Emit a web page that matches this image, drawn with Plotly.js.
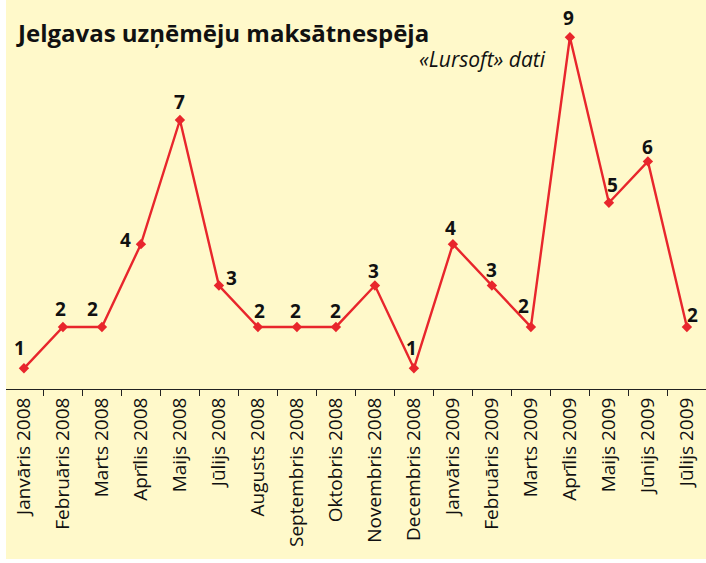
<!DOCTYPE html>
<html>
<head>
<meta charset="utf-8">
<script src="https://cdn.plot.ly/plotly-3.0.1.min.js"></script>
<style>html,body{margin:0;padding:0;background:#fff;}#chart{width:706px;height:563px;}</style>
</head>
<body>
<div id="chart"></div>
<script>
// Data
var months = ["Janvāris 2008","Februāris 2008","Marts 2008","Aprīlis 2008","Maijs 2008","Jūlijs 2008",
  "Augusts 2008","Septembris 2008","Oktobris 2008","Novembris 2008","Decembris 2008",
  "Janvāris 2009","Februāris 2009","Marts 2009","Aprīlis 2009","Maijs 2009","Jūnijs 2009","Jūlijs 2009"];
var counts = [1,2,2,4,7,3,2,2,2,3,1,4,3,2,9,5,6,2];
var titleText = "Jelgavas uzņēmēju maksātnespēja";
var sourceText = "«Lursoft» dati";

// Style: label offsets (pixels) relative to each point
var labelDx = [-4,-2,-9,-15,0,13,2,-1,0,-1,-2,-2,0,-7,-1,4,0,6];
var labelDy = [20,18,18,4,18,8,16,16,16,15,20,16,16,21,19,18,14,12];

var red = "#E8262C";
var bg = "#FFF9CA";
var fontFam = "'Open Sans', 'Noto Sans', sans-serif";

var annotations = counts.map(function(v,i){
  return {x: months[i], y: v, xref:'x', yref:'y', text: String(v), showarrow:false,
    xanchor:'center', yanchor:'middle', xshift: labelDx[i], yshift: labelDy[i],
    font:{family:fontFam, size:19, color:'#111', weight:700}};
});
annotations.push({xref:'paper', yref:'paper', x:8/700, y:(389-32)/389, xanchor:'left', yanchor:'middle',
  text:'<b>'+titleText+'</b>', showarrow:false, font:{family:fontFam, size:24, color:'#111'}});
annotations.push({xref:'paper', yref:'paper', x:(548-6)/700, y:(389-59)/389, xanchor:'right', yanchor:'middle',
  text:'<i>'+sourceText+'</i>', showarrow:false, font:{family:fontFam, size:21, color:'#111'}});

var trace = {
  x: months, y: counts, type:'scatter', mode:'lines+markers',
  line:{color:red, width:2.4},
  marker:{symbol:'diamond', size:8, color:red},
  hoverinfo:'x+y'
};

var layout = {
  width:706, height:563,
  margin:{l:6, r:0, t:0, b:174},
  paper_bgcolor:'#ffffff',
  plot_bgcolor:'rgba(0,0,0,0)',
  showlegend:false,
  xaxis:{type:'category', range:[-0.46,17.49], showgrid:false, zeroline:false,
    showline:true, linecolor:'#222', linewidth:1,
    ticks:'outside', tickson:'boundaries', ticklen:6, tickcolor:'#222', tickwidth:1,
    tickangle:-90, tickfont:{family:fontFam, size:19, color:'#111'}},
  yaxis:{range:[0.5,9.9], showgrid:false, zeroline:false, showline:false, showticklabels:false, ticks:''},
  shapes:[{type:'rect', xref:'paper', yref:'paper', x0:0, x1:1, y0:(389-559)/389, y1:1.01,
    fillcolor:bg, line:{width:0}, layer:'below'}],
  annotations: annotations
};

Plotly.newPlot('chart', [trace], layout, {displayModeBar:false, staticPlot:true});
</script>
</body>
</html>
